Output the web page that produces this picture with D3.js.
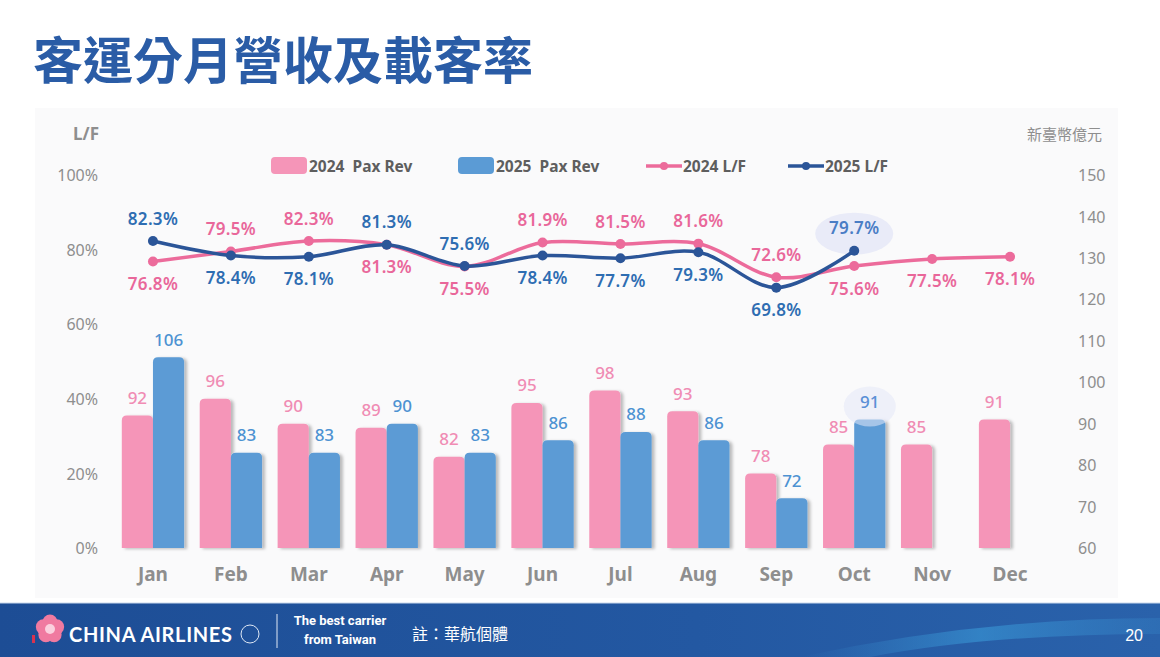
<!DOCTYPE html>
<html><head><meta charset="utf-8">
<script src="https://cdn.jsdelivr.net/npm/d3@7/dist/d3.min.js"></script>
<style>
html,body{margin:0;padding:0;background:#fff;}
svg{display:block;}
text{white-space:pre;}
</style></head>
<body>
<svg id="c" width="1160" height="657"></svg>
<script>
// ---------- DATA ----------
const months = ["Jan","Feb","Mar","Apr","May","Jun","Jul","Aug","Sep","Oct","Nov","Dec"];
const rev2024 = [92,96,90,89,82,95,98,93,78,85,85,91];
const rev2025 = [106,83,83,90,83,86,88,86,72,91,null,null];
const lf2024 = [76.8,79.5,82.3,81.3,75.5,81.9,81.5,81.6,72.6,75.6,77.5,78.1];
const lf2025 = [82.3,78.4,78.1,81.3,75.6,78.4,77.7,79.3,69.8,79.7,null,null];
const lfTicks = [0,20,40,60,80,100];
const revTicks = [60,70,80,90,100,110,120,130,140,150];
// label placement (1 = above point, -1 = below)
const side2024 = [-1,1,1,-1,-1,1,1,1,1,-1,-1,-1];
const side2025 = [1,-1,-1,1,1,-1,-1,-1,-1,1];
const legendItems = ["2024  Pax Rev","2025  Pax Rev","2024 L/F","2025 L/F"];
const title = "客運分月營收及載客率";

// ---------- STYLE ----------
const C = {pinkBar:"#f595b8", blueBar:"#5b9bd5", pinkLine:"#ec6b9b", blueLine:"#2b5598",
  pinkLbl:"#e9679a", blueLbl:"#2e6db2", pinkBarLbl:"#f08cb4", blueBarLbl:"#4d92d2",
  axis:"#8e8e8e", title:"#2a5ca6"};
const NUMF = "'Noto Sans','DejaVu Sans',sans-serif";
const CJK = "'Noto Sans CJK TC','Noto Sans CJK SC',sans-serif";

const svg = d3.select("#c");
const defs = svg.append("defs");
const f = defs.append("filter").attr("id","sh").attr("x","-20%").attr("y","-10%").attr("width","160%").attr("height","130%");
f.append("feDropShadow").attr("dx",3).attr("dy",1).attr("stdDeviation",1.8).attr("flood-color","#000").attr("flood-opacity",0.25);

// chart background
svg.append("rect").attr("x",35).attr("y",108).attr("width",1083).attr("height",490).attr("fill","#fafafb");

// title
svg.append("text").attr("x",33).attr("y",57).attr("dominant-baseline","central")
  .attr("font-family",CJK).attr("font-weight",700).attr("font-size",50).attr("fill",C.title).text(title);

// ---------- SCALES ----------
const x = d3.scaleBand().domain(months).range([114,1049]).paddingInner(0.2).paddingOuter(0.1);
const xs = d3.scaleBand().domain(["2024","2025"]).range([0,x.bandwidth()]);
const yL = d3.scaleLinear().domain([0,100]).range([548,175]);
const yR = d3.scaleLinear().domain([60,150]).range([548,175]);
const cx = m => x(m) + x.bandwidth()/2;

// ---------- AXES ----------
const gL = svg.append("g").attr("transform","translate(100,0)")
  .call(d3.axisLeft(yL).tickValues(lfTicks).tickSize(0).tickPadding(2).tickFormat(d=>d+"%"));
const gR = svg.append("g").attr("transform","translate(1076,0)")
  .call(d3.axisRight(yR).tickValues(revTicks).tickSize(0).tickPadding(2));
[gL,gR].forEach(g=>{g.select(".domain").remove();
  g.selectAll("text").attr("font-family",NUMF).attr("font-size",16).attr("fill",C.axis).attr("dy","0.35em");});
const gX = svg.append("g").attr("transform","translate(0,564)")
  .call(d3.axisBottom(x).tickSize(0).tickPadding(0));
gX.select(".domain").remove();
gX.selectAll("text").attr("font-family",NUMF).attr("font-weight",700).attr("font-size",19)
  .attr("fill",C.axis).attr("dy","0.9em");

// axis titles
svg.append("text").attr("x",99).attr("y",133).attr("text-anchor","end").attr("dominant-baseline","central")
  .attr("font-family",NUMF).attr("font-weight",700).attr("font-size",17).attr("fill",C.axis).text("L/F");
svg.append("text").attr("x",1102).attr("y",133).attr("text-anchor","end").attr("dominant-baseline","central")
  .attr("font-family",CJK).attr("font-size",15).attr("fill",C.axis).text("新臺幣億元");

// ---------- BARS ----------
function topRounded(x0,y0,w,h,r){
  r = Math.min(r,w/2,h);
  return `M${x0},${y0+h}V${y0+r}Q${x0},${y0} ${x0+r},${y0}H${x0+w-r}Q${x0+w},${y0} ${x0+w},${y0+r}V${y0+h}Z`;
}
const barsData = [];
months.forEach((m,i)=>{
  barsData.push({m, k:"2024", v:rev2024[i]});
  if(rev2025[i]!=null) barsData.push({m, k:"2025", v:rev2025[i]});
});
const gb = svg.append("g").attr("filter","url(#sh)");
gb.selectAll("path").data(barsData).join("path")
  .attr("d",d=>topRounded(x(d.m)+xs(d.k), yR(d.v), xs.bandwidth(), yR(60)-yR(d.v), 5))
  .attr("fill",d=>d.k==="2024"?C.pinkBar:C.blueBar);

// highlight ellipses
svg.append("ellipse").attr("cx",x("Oct")+xs("2025")+xs.bandwidth()/2).attr("cy",yR(91)-13)
  .attr("rx",26).attr("ry",20).attr("fill","#e4e8f8").attr("opacity",0.55);
svg.append("ellipse").attr("cx",cx("Oct")).attr("cy",yL(79.7)-17)
  .attr("rx",39).attr("ry",21).attr("fill","#e9ebf8");

// bar labels
svg.append("g").selectAll("text").data(barsData).join("text")
  .attr("x",d=>x(d.m)+xs(d.k)+xs.bandwidth()/2)
  .attr("y",d=>yR(d.v)-18).attr("text-anchor","middle").attr("dominant-baseline","central")
  .attr("font-family",NUMF).attr("font-size",17).attr("font-weight",500)
  .attr("fill",d=>(d.k==="2025" && d.m==="Oct")?"#5a8fd6":(d.k==="2024"?C.pinkBarLbl:C.blueBarLbl)).text(d=>d.v);

// ---------- LINES ----------
const line = d3.line().defined(d=>d.v!=null).x(d=>cx(d.m)).y(d=>yL(d.v)).curve(d3.curveCatmullRom.alpha(0.5));
const s24 = months.map((m,i)=>({m,v:lf2024[i],s:side2024[i]}));
const s25 = months.map((m,i)=>({m,v:lf2025[i],s:side2025[i]})).filter(d=>d.v!=null);
[[s24,C.pinkLine,C.pinkLbl],[s25,C.blueLine,C.blueLbl]].forEach(([s,col,lc])=>{
  svg.append("path").datum(s).attr("d",line).attr("fill","none").attr("stroke",col).attr("stroke-width",3.5)
    .attr("stroke-linecap","round");
  svg.append("g").selectAll("circle").data(s).join("circle")
    .attr("cx",d=>cx(d.m)).attr("cy",d=>yL(d.v)).attr("r",5).attr("fill",col);
  svg.append("g").selectAll("text").data(s).join("text")
    .attr("x",d=>cx(d.m)).attr("y",d=>yL(d.v)+(d.s>0?-23:22))
    .attr("text-anchor","middle").attr("dominant-baseline","central")
    .attr("font-family",NUMF).attr("font-weight",600).attr("font-size",17).attr("letter-spacing",0.3)
    .attr("fill",d=>(col===C.blueLine && d.m==="Oct")?"#4a7dc5":lc).text(d=>d.v.toFixed(1)+"%");
});

// ---------- LEGEND ----------
const lg = svg.append("g").attr("font-family",NUMF).attr("font-weight",700).attr("font-size",15.5).attr("fill","#5e5e5e");
const legPos = [271,458,646,788];
legendItems.forEach((t,i)=>{
  const x0 = legPos[i];
  if(i<2){
    lg.append("rect").attr("x",x0).attr("y",157).attr("width",36).attr("height",17).attr("rx",4)
      .attr("fill",i===0?C.pinkBar:C.blueBar);
    lg.append("text").attr("x",x0+38).attr("y",166).attr("dominant-baseline","central").text(t);
  } else {
    const col = i===2?C.pinkLine:C.blueLine;
    lg.append("line").attr("x1",x0).attr("x2",x0+36).attr("y1",166).attr("y2",166).attr("stroke",col).attr("stroke-width",3.5);
    lg.append("circle").attr("cx",x0+18).attr("cy",166).attr("r",4).attr("fill",col);
    lg.append("text").attr("x",x0+37).attr("y",166).attr("dominant-baseline","central").text(t);
  }
});

// ---------- FOOTER ----------
const gr = defs.append("linearGradient").attr("id","fg").attr("x1","0").attr("x2","1");
gr.append("stop").attr("offset","0").attr("stop-color","#1d4d95");
gr.append("stop").attr("offset","0.6").attr("stop-color","#2358a2");
gr.append("stop").attr("offset","1").attr("stop-color","#2a62ab");
svg.append("rect").attr("x",0).attr("y",603).attr("width",1160).attr("height",54).attr("fill","url(#fg)");
svg.append("line").attr("x1",0).attr("x2",1160).attr("y1",603).attr("y2",603).attr("stroke","#c9d8ec").attr("stroke-width",1);
const sw = defs.append("linearGradient").attr("id","sw").attr("x1","0").attr("x2","1");
sw.append("stop").attr("offset","0").attr("stop-color","#3a8fd0").attr("stop-opacity",0);
sw.append("stop").attr("offset","0.5").attr("stop-color","#3a9ad8").attr("stop-opacity",0.6);
sw.append("stop").attr("offset","1").attr("stop-color","#3a8fd0").attr("stop-opacity",0.25);
svg.append("path").attr("d","M800,657 Q980,618 1160,618 L1160,634 Q990,634 870,657 Z").attr("fill","url(#sw)");

// logo flower
const fl = svg.append("g").attr("transform","translate(50,629)");
d3.range(5).forEach(k=>{
  const a = -Math.PI/2 + k*2*Math.PI/5;
  fl.append("circle").attr("cx",7*Math.cos(a)).attr("cy",7*Math.sin(a)).attr("r",7.5).attr("fill","#f07aa0");
});
fl.append("circle").attr("r",5).attr("fill","#fbd0de");
fl.append("rect").attr("x",-18).attr("y",6).attr("width",3).attr("height",8).attr("fill","#d8334f");
svg.append("text").attr("x",69).attr("y",634).attr("dominant-baseline","central").attr("font-family","Lato,'Noto Sans',sans-serif")
  .attr("font-size",20).attr("font-weight",700).attr("fill","#fff").attr("textLength",163).text("CHINA AIRLINES");
svg.append("circle").attr("cx",250).attr("cy",634).attr("r",9).attr("fill","none").attr("stroke","#dfe8f5").attr("stroke-width",1);
svg.append("line").attr("x1",277).attr("x2",277).attr("y1",614).attr("y2",648).attr("stroke","#dfe8f5").attr("stroke-width",1);
const ft = svg.append("g").attr("font-family","'Liberation Sans Narrow','Roboto','Noto Sans',sans-serif").attr("font-weight",700)
  .attr("font-size",13).attr("fill","#fff").attr("text-anchor","middle");
ft.append("text").attr("x",340).attr("y",620).attr("dominant-baseline","central").text("The best carrier");
ft.append("text").attr("x",340).attr("y",639).attr("dominant-baseline","central").text("from Taiwan");
svg.append("text").attr("x",412).attr("y",633).attr("dominant-baseline","central").attr("font-family",CJK)
  .attr("font-size",16).attr("fill","#fff").text("註：華航個體");
svg.append("text").attr("x",1143).attr("y",635).attr("text-anchor","end").attr("dominant-baseline","central")
  .attr("font-family","'Liberation Sans',Arial,sans-serif").attr("font-size",16).attr("fill","#fff").text("20");
</script>
</body></html>
